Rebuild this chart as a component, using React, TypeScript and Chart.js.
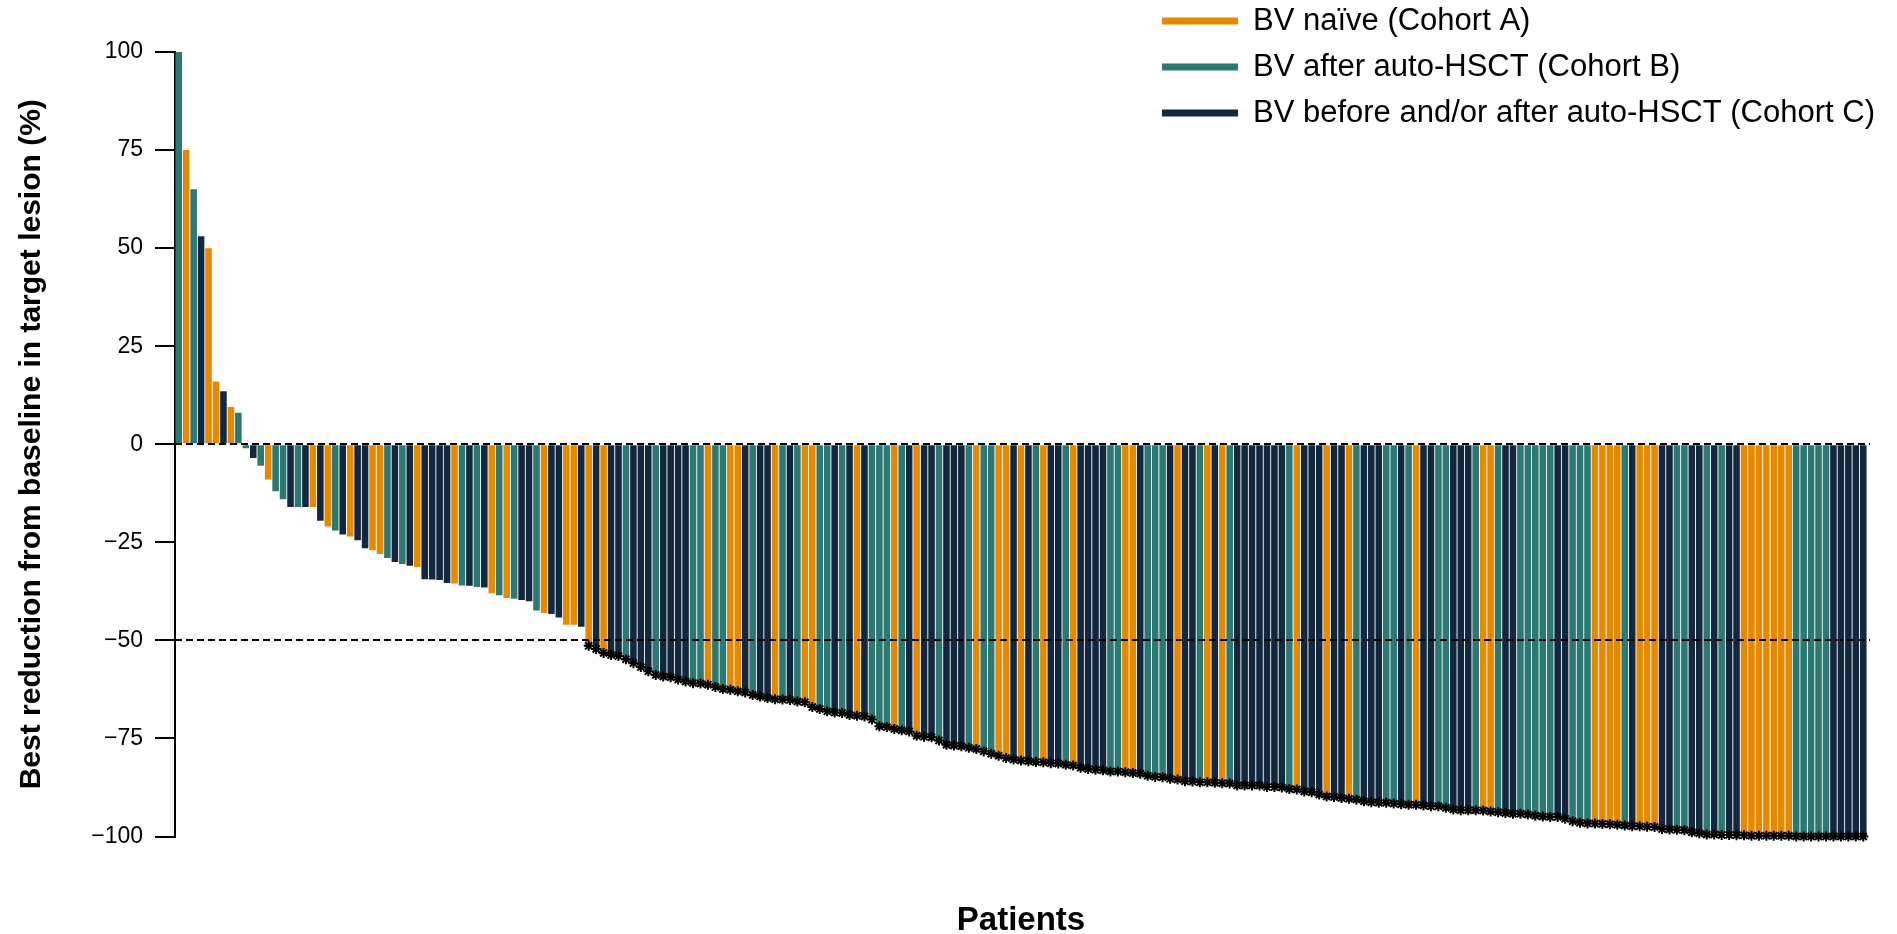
import { useEffect, useRef } from "react";
import { Chart, registerables } from "chart.js";

Chart.register(...registerables);

const cohortKeys = ["A", "B", "C"];
const cohortLabels = [
  "BV naïve (Cohort A)",
  "BV after auto-HSCT (Cohort B)",
  "BV before and/or after auto-HSCT (Cohort C)",
];
const cohortColors = ["#E58A00", "#2C7873", "#13273F"];

const yTicks = [100, 75, 50, 25, 0, -25, -50, -75, -100];
const responseThreshold = -50;

const bestReduction = [
  100, 75, 65, 53, 50, 16, 13.5, 9.5, 8, -1,
  -3.5, -5.5, -9, -12, -14, -16, -16, -16, -16, -19.5,
  -21, -22, -23, -23.5, -24.5, -26.5, -27, -28, -29, -30,
  -30.5, -31, -31.3, -34.4, -34.5, -34.6, -35.4, -35.5, -36, -36.1,
  -36.4, -36.5, -38, -38.5, -39.2, -39.4, -39.7, -40, -42.4, -43,
  -43.3, -44.2, -46, -46, -46.5, -51.4, -52.2, -53.2, -53.7, -54,
  -54.8, -55.8, -56.8, -57.9, -58.8, -59.2, -59.4, -60, -60.5, -60.9,
  -61, -61.3, -61.9, -62.4, -62.6, -63, -63.3, -63.9, -64.3, -64.7,
  -65, -65.1, -65.2, -65.6, -65.8, -67, -67.5, -68.1, -68.4, -68.5,
  -69, -69.2, -69.4, -70.2, -71.9, -72.1, -72.6, -72.9, -73.2, -74.3,
  -74.6, -74.7, -75.5, -76.6, -76.8, -77, -77.4, -77.7, -78.3, -78.9,
  -79.4, -80, -80.4, -80.6, -80.8, -81, -81.1, -81.3, -81.4, -81.7,
  -81.9, -82.5, -82.8, -83, -83.1, -83.4, -83.4, -83.6, -83.8, -84,
  -84.5, -84.8, -84.9, -85.3, -85.5, -85.9, -86, -86.2, -86.2, -86.3,
  -86.4, -86.5, -87, -87, -87, -87, -87.4, -87.4, -87.5, -87.9,
  -88, -88.5, -88.7, -89.3, -89.8, -89.9, -90.2, -90.4, -90.6, -91,
  -91.3, -91.4, -91.4, -91.6, -91.8, -91.9, -91.9, -92.1, -92.3, -92.3,
  -92.7, -93.1, -93.3, -93.3, -93.3, -93.4, -93.6, -93.8, -94, -94.2,
  -94.2, -94.4, -94.7, -94.9, -95, -95, -95.5, -96.1, -96.5, -96.7,
  -96.7, -96.8, -96.9, -97, -97.2, -97.4, -97.4, -97.5, -97.6, -98.1,
  -98.2, -98.3, -98.4, -98.9, -99.2, -99.5, -99.5, -99.6, -99.6, -99.7,
  -99.7, -99.8, -99.8, -99.8, -99.8, -99.8, -99.8, -100, -100, -100,
  -100, -100, -100, -100, -100, -100, -100,
];

const patientCohort = [
  "B", "A", "B", "C", "A", "A", "C", "A", "B", "B",
  "C", "B", "A", "B", "B", "C", "B", "C", "A", "C",
  "A", "B", "C", "A", "C", "C", "A", "A", "B", "C",
  "B", "C", "A", "C", "C", "C", "C", "A", "B", "C",
  "B", "C", "A", "B", "A", "B", "C", "C", "B", "A",
  "C", "C", "A", "A", "C", "A", "C", "A", "C", "C",
  "B", "C", "C", "C", "B", "C", "C", "C", "C", "B",
  "B", "A", "B", "B", "A", "A", "C", "B", "C", "C",
  "A", "B", "C", "B", "A", "A", "B", "B", "C", "B",
  "C", "A", "C", "B", "B", "B", "A", "B", "C", "A",
  "C", "C", "B", "C", "C", "C", "B", "A", "B", "B",
  "A", "A", "C", "A", "C", "B", "A", "C", "C", "B",
  "A", "C", "C", "C", "C", "B", "B", "A", "A", "C",
  "B", "B", "B", "C", "A", "C", "C", "B", "A", "C",
  "A", "B", "C", "C", "C", "C", "C", "C", "C", "B",
  "A", "C", "C", "C", "A", "C", "C", "A", "B", "C",
  "C", "C", "B", "B", "C", "B", "A", "C", "C", "B",
  "B", "C", "C", "C", "B", "A", "A", "B", "C", "C",
  "B", "B", "B", "B", "B", "C", "C", "B", "B", "B",
  "A", "A", "A", "A", "B", "C", "A", "A", "A", "C",
  "C", "B", "B", "C", "C", "B", "C", "B", "C", "C",
  "A", "A", "A", "A", "A", "A", "A", "B", "B", "B",
  "B", "B", "C", "C", "C", "C", "C",
];

const patients = bestReduction.map((_, i) => String(i + 1));

const FONT = '"Liberation Sans", Arial, Helvetica, sans-serif';

const overlayPlugin = {
  id: "overlay",
  afterDatasetsDraw(chart: any) {
    const { ctx, chartArea, scales } = chart;
    const y = scales.y;
    ctx.save();
    ctx.strokeStyle = "#000";
    ctx.lineWidth = 2;
    ctx.setLineDash([7, 4]);
    [0, responseThreshold].forEach((v) => {
      const py = Math.round(y.getPixelForValue(v));
      ctx.beginPath();
      ctx.moveTo(chartArea.left, py);
      ctx.lineTo(chartArea.right + 3, py);
      ctx.stroke();
    });
    ctx.restore();
  },
  afterDraw(chart: any) {
    const { ctx } = chart;
    ctx.save();
    ctx.font = `31px ${FONT}`;
    ctx.textBaseline = "middle";
    ctx.textAlign = "left";
    cohortLabels.forEach((label, k) => {
      const yy = 21 + k * 46;
      ctx.strokeStyle = cohortColors[k];
      ctx.lineWidth = 7;
      ctx.beginPath();
      ctx.moveTo(1162, yy);
      ctx.lineTo(1238, yy);
      ctx.stroke();
      ctx.fillStyle = "#000";
      ctx.fillText(label, 1253, yy);
    });
    ctx.restore();
  },
};

export default function App() {
  const ref = useRef<HTMLCanvasElement | null>(null);

  useEffect(() => {
    if (!ref.current) return;
    Chart.defaults.font.family = FONT;
    const chart = new Chart(ref.current, {
      type: "bar",
      data: {
        labels: patients,
        datasets: [
          {
            type: "line",
            label: "≥50% reduction",
            data: bestReduction.map((v) => (v <= responseThreshold ? v : null)),
            showLine: false,
            pointStyle: "star",
            pointRadius: 5,
            pointBorderWidth: 2,
            pointBorderColor: "#000",
            pointBackgroundColor: "#000",
            clip: false,
            order: 0,
          } as any,
          {
            type: "bar",
            label: "Best reduction",
            data: bestReduction,
            backgroundColor: patientCohort.map((c) => cohortColors[cohortKeys.indexOf(c)]),
            borderWidth: 0,
            barPercentage: 0.88,
            categoryPercentage: 1,
            order: 1,
          },
        ],
      },
      options: {
        animation: false,
        responsive: false,
        devicePixelRatio: 1,
        layout: { padding: { top: 52, right: 30, bottom: 0, left: 0 } },
        plugins: {
          legend: { display: false },
          tooltip: { enabled: false },
        },
        scales: {
          x: {
            type: "category",
            offset: true,
            grid: { display: false },
            border: { display: false },
            ticks: { display: false },
            title: {
              display: true,
              text: "Patients",
              color: "#000",
              font: { family: FONT, size: 33, weight: "bold" },
              padding: { top: 0, bottom: -7 },
            },
            afterFit: (s: any) => {
              s.height = 97.5;
            },
          },
          y: {
            min: -100,
            max: 100,
            afterBuildTicks: (s: any) => {
              s.ticks = yTicks.map((v) => ({ value: v }));
            },
            ticks: {
              color: "#000",
              font: { family: FONT, size: 23 },
              padding: 12,
              callback: (v: any) => (Number(v) < 0 ? "−" + Math.abs(Number(v)) : String(v)),
            },
            grid: {
              drawOnChartArea: false,
              drawTicks: true,
              tickLength: 20,
              color: "#000",
              lineWidth: 2,
            },
            border: { display: true, color: "#000", width: 2 },
            title: {
              display: true,
              text: "Best reduction from baseline in target lesion (%)",
              color: "#000",
              font: { family: FONT, size: 30, weight: "bold" },
              padding: { top: 14, bottom: 0 },
            },
            afterFit: (s: any) => {
              s.width = 175;
            },
          },
        },
      },
      plugins: [overlayPlugin],
    });
    return () => chart.destroy();
  }, []);

  return (
    <div style={{ position: "fixed", left: 0, top: 0, width: 1897, height: 934, background: "#fff" }}>
      <canvas ref={ref} width={1897} height={934} style={{ display: "block" }} />
    </div>
  );
}
